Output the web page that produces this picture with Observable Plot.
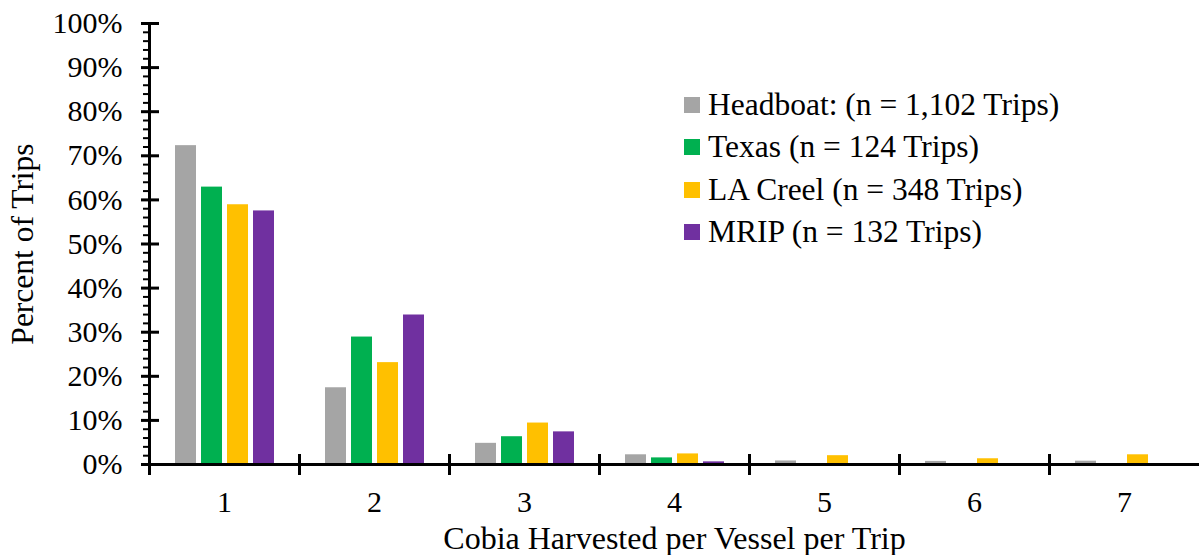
<!DOCTYPE html>
<html>
<head>
<meta charset="utf-8">
<script src="https://cdn.jsdelivr.net/npm/d3@7"></script>
<script src="https://cdn.jsdelivr.net/npm/@observablehq/plot@0.6"></script>
<style>
  html, body { margin: 0; padding: 0; background: white; }
  #wrap { position: relative; width: 1199px; height: 555px; font-family: "Liberation Serif", "Times New Roman", serif; }
  #legend { position: absolute; left: 684px; top: 84px; font-size: 31.5px; color: #000; }
  #legend .row { display: flex; align-items: center; height: 42.3px; white-space: nowrap; }
  #legend .sw { width: 16px; height: 16px; margin-right: 8px; flex: none; }
</style>
</head>
<body>
<div id="wrap"></div>
<script>
// ---- data ----
const categories = [1, 2, 3, 4, 5, 6, 7];
const seriesNames = ["Headboat", "Texas", "LA Creel", "MRIP"];
const legendLabels = [
  "Headboat: (n = 1,102 Trips)",
  "Texas (n = 124 Trips)",
  "LA Creel (n = 348 Trips)",
  "MRIP (n = 132 Trips)"
];
const seriesColors = ["#A5A5A5", "#00B050", "#FFC000", "#7030A0"];
const headboat = [72.3, 17.4, 4.8, 2.2, 0.8, 0.7, 0.75];
const texas    = [62.9, 28.9, 6.3, 1.5, 0, 0, 0];
const laCreel  = [58.9, 23.1, 9.4, 2.4, 2.0, 1.3, 2.2];
const mrip     = [57.5, 33.9, 7.4, 0.6, 0, 0, 0];
const yMajorTicks = [0, 10, 20, 30, 40, 50, 60, 70, 80, 90, 100];
const yMinorTicks = d3.range(0, 101, 2).filter(v => v % 10 !== 0);
const xTitle = "Cobia Harvested per Vessel per Trip";
const yTitle = "Percent of Trips";

// ---- table ----
const seriesValues = [headboat, texas, laCreel, mrip];
const rows = [];
seriesNames.forEach((s, si) => {
  categories.forEach((c, ci) => {
    rows.push({cat: c, series: s, value: seriesValues[si][ci]});
  });
});

const font = "Liberation Serif, Times New Roman, serif";

const chart = Plot.plot({
  width: 1199,
  height: 555,
  marginLeft: 149,
  marginRight: 0,
  marginTop: 23,
  marginBottom: 91,
  style: {fontFamily: font, fontSize: "30px", color: "#000", background: "white", overflow: "visible"},
  fx: {domain: categories, padding: 0, axis: null},
  x: {domain: seriesNames, paddingInner: 0.2, paddingOuter: 0.878, axis: null},
  y: {domain: [0, 100], axis: null},
  color: {domain: seriesNames, range: seriesColors},
  marks: [
    Plot.barY(rows, {fx: "cat", x: "series", y: "value", fill: "series"}),
    Plot.ruleY([0], {stroke: "#000", strokeWidth: 3}),
    Plot.frame({anchor: "left", insetTop: 432, insetBottom: -9, stroke: "#000", strokeWidth: 3}),
    Plot.frame({anchor: "left", insetBottom: -9, stroke: "#000", strokeWidth: 3, facetAnchor: "left"}),
    Plot.axisY(yMinorTicks, {tickSize: 6, strokeWidth: 2, tickFormat: () => "", label: null}),
    Plot.axisY(yMajorTicks, {tickSize: 18, dx: 10, strokeWidth: 3, tickFormat: () => "", label: null}),
    Plot.axisY(yMajorTicks, {
      tickSize: 0, tickPadding: 27, tickFormat: d => d + "%", fontSize: 30, label: null
    }),
    Plot.axisY([], {
      tickSize: 0, fontSize: 31.5,
      label: yTitle, labelAnchor: "center", labelOffset: 139, labelArrow: "none"
    }),
    Plot.axisFx({
      anchor: "bottom", tickSize: 0, tickPadding: 26, fontSize: 30, label: null
    }),
    Plot.axisFx([], {
      anchor: "bottom", tickSize: 0, fontSize: 32,
      label: xTitle, labelAnchor: "center", labelOffset: 84, labelArrow: "none"
    })
  ]
});

const wrap = document.getElementById("wrap");
wrap.appendChild(chart);

const legend = document.createElement("div");
legend.id = "legend";
seriesNames.forEach((s, i) => {
  const row = document.createElement("div");
  row.className = "row";
  const sw = document.createElement("span");
  sw.className = "sw";
  sw.style.background = seriesColors[i];
  const t = document.createElement("span");
  t.textContent = legendLabels[i];
  row.appendChild(sw);
  row.appendChild(t);
  legend.appendChild(row);
});
wrap.appendChild(legend);
</script>
</body>
</html>
